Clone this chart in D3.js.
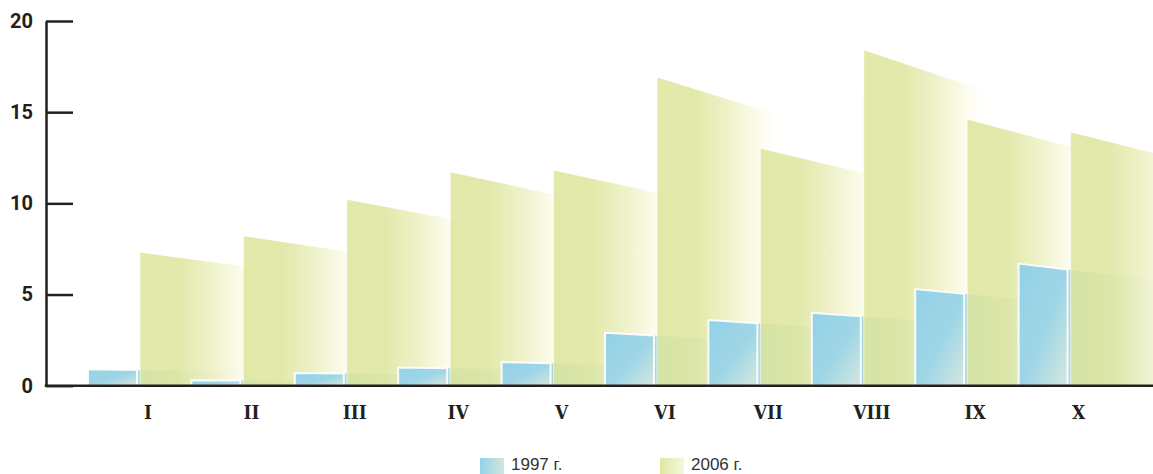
<!DOCTYPE html>
<html>
<head>
<meta charset="utf-8">
<script src="https://cdn.jsdelivr.net/npm/d3@7/dist/d3.min.js"></script>
<style>
  html, body { margin: 0; padding: 0; background: #fff; }
  svg { display: block; }
</style>
</head>
<body>
<svg id="chart" width="1153" height="474"></svg>
<script>
// ---- data ----
const categories = ["I", "II", "III", "IV", "V", "VI", "VII", "VIII", "IX", "X"];
const values1997 = [0.9, 0.3, 0.7, 1.0, 1.3, 2.9, 3.6, 4.0, 5.3, 6.7];
const values2006 = [7.3, 8.2, 10.2, 11.7, 11.8, 16.9, 13.0, 18.4, 14.6, 13.9];
const yTicks = [0, 5, 10, 15, 20];
const seriesNames = ["1997 г.", "2006 г."];

// ---- layout ----
const W = 1153, H = 474;
const axisX = 46, baseY = 385.7, topY = 21;
const svg = d3.select("#chart");

const y = d3.scaleLinear().domain([0, 20]).range([baseY, topY]);
const x = d3.scaleBand().domain(categories).range([88, 88 + 10 * 103.4]).padding(0);

const blueW = 49, yellowOff = 52, blueExt = 110, yellowW = 128;
const persp = 0.001; // perspective shrink per px

const defs = svg.append("defs");
const gBF = defs.append("linearGradient").attr("id", "blueFront")
  .attr("x1", 0).attr("y1", 0).attr("x2", 1).attr("y2", 1);
gBF.append("stop").attr("offset", 0).attr("stop-color", "#93d1e6");
gBF.append("stop").attr("offset", 0.55).attr("stop-color", "#9fd6e6");
gBF.append("stop").attr("offset", 1).attr("stop-color", "#d6e7df");
const gBE = defs.append("linearGradient").attr("id", "blueExt")
  .attr("x1", 0).attr("y1", 0).attr("x2", 1).attr("y2", 0);
gBE.append("stop").attr("offset", 0).attr("stop-color", "#9fd4e2").attr("stop-opacity", 0.95);
gBE.append("stop").attr("offset", 0.5).attr("stop-color", "#b5dde0").attr("stop-opacity", 0.5);
gBE.append("stop").attr("offset", 1).attr("stop-color", "#d6ebe6").attr("stop-opacity", 0);
const gY = defs.append("linearGradient").attr("id", "yellowG")
  .attr("x1", 0).attr("y1", 0).attr("x2", 1).attr("y2", 0);
gY.append("stop").attr("offset", 0).attr("stop-color", "#dde59c").attr("stop-opacity", 0.86);
gY.append("stop").attr("offset", 0.3).attr("stop-color", "#dde59c").attr("stop-opacity", 0.86);
gY.append("stop").attr("offset", 0.55).attr("stop-color", "#eaeeba").attr("stop-opacity", 0.8);
gY.append("stop").attr("offset", 0.8).attr("stop-color", "#fbfbe6").attr("stop-opacity", 0.75);
gY.append("stop").attr("offset", 1).attr("stop-color", "#ffffff").attr("stop-opacity", 0);
const gLB = defs.append("linearGradient").attr("id", "legBlue");
gLB.append("stop").attr("offset", 0).attr("stop-color", "#95d3e6");
gLB.append("stop").attr("offset", 1).attr("stop-color", "#cfe5e0");
const gLY = defs.append("linearGradient").attr("id", "legYellow");
gLY.append("stop").attr("offset", 0).attr("stop-color", "#dfe7a2");
gLY.append("stop").attr("offset", 1).attr("stop-color", "#f6f8de");

function sheet(x0, x1, v) {
  const h0 = baseY - y(v);
  const topAt = xx => baseY - h0 * (1 - persp * (xx - x0));
  return d3.line()([[x0, baseY], [x0, y(v)], [x1, topAt(x1)], [x1, baseY]]) + "Z";
}
function sheetFrom(origin, xa, xb, v) {
  const h0 = baseY - y(v);
  const topAt = xx => baseY - h0 * (1 - persp * (xx - origin));
  return d3.line()([[xa, baseY], [xa, topAt(xa)], [xb, topAt(xb)], [xb, baseY]]) + "Z";
}

const bars = svg.append("g");
categories.forEach((c, i) => {
  const x0 = x(c);
  const g = bars.append("g");
  g.append("path")
    .attr("d", sheetFrom(x0, x0 + blueW, x0 + blueW + blueExt, values1997[i]))
    .attr("fill", "url(#blueExt)");
  g.append("path")
    .attr("d", sheet(x0, x0 + blueW, values1997[i]))
    .attr("fill", "url(#blueFront)")
    .attr("stroke", "#ffffff").attr("stroke-width", 2).attr("stroke-opacity", 0.9);
  const xy = x0 + yellowOff;
  g.append("path")
    .attr("d", sheet(xy, xy + yellowW, values2006[i]))
    .attr("fill", "url(#yellowG)");
  g.append("line")
    .attr("x1", xy).attr("x2", xy)
    .attr("y1", y(values2006[i])).attr("y2", baseY)
    .attr("stroke", "#fff").attr("stroke-width", 1).attr("stroke-opacity", 0.6);
});

// ---- axes ----
const yAxis = d3.axisLeft(y).tickValues(yTicks).tickSizeInner(-27).tickSizeOuter(0).tickPadding(13);
const gy = svg.append("g").attr("transform", `translate(${axisX},0)`).call(yAxis);
gy.select(".domain").attr("stroke", "#231f20").attr("stroke-width", 2.5);
gy.selectAll(".tick line").attr("stroke", "#231f20").attr("stroke-width", 2.5);
gy.selectAll(".tick text")
  .attr("fill", "#231f20")
  .style("font-family", "Roboto, 'DejaVu Sans', sans-serif")
  .style("font-weight", "700")
  .style("font-size", "20px");

svg.append("line")
  .attr("x1", axisX - 1.25).attr("x2", W)
  .attr("y1", baseY).attr("y2", baseY)
  .attr("stroke", "#231f20").attr("stroke-width", 2.5);

svg.append("g").selectAll("text").data(categories).join("text")
  .attr("x", d => x(d) + yellowOff + 8)
  .attr("y", 419)
  .attr("text-anchor", "middle")
  .attr("fill", "#231f20")
  .style("font-family", "'DejaVu Serif Condensed', 'DejaVu Serif', serif")
  .style("font-stretch", "condensed")
  .style("font-weight", "700")
  .style("font-size", "19px")
  .text(d => d);

// ---- legend ----
const legend = [
  { name: seriesNames[0], fill: "url(#legBlue)", x: 480 },
  { name: seriesNames[1], fill: "url(#legYellow)", x: 660 }
];
const lg = svg.append("g");
legend.forEach(l => {
  lg.append("rect").attr("x", l.x).attr("y", 458).attr("width", 24).attr("height", 16).attr("fill", l.fill);
  lg.append("text").attr("x", l.x + 31).attr("y", 470)
    .attr("fill", "#333")
    .style("font-family", "'Liberation Sans', Arial, sans-serif")
    .style("font-size", "17px")
    .text(l.name);
});
</script>
</body>
</html>
